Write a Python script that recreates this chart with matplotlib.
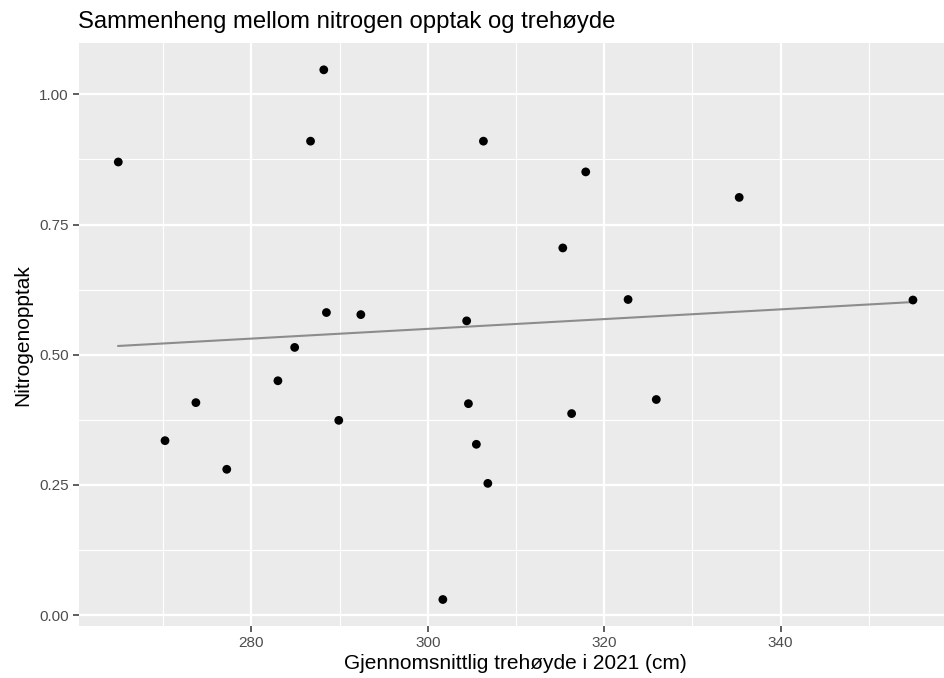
import numpy as np
import matplotlib
matplotlib.use('Agg')
import matplotlib.pyplot as plt
from matplotlib.ticker import MultipleLocator

# gjennomsnittlig trehøyde 2021 (cm) og nitrogenopptak
hoyde = [264.9, 270.2, 273.7, 277.2, 283.0, 284.9, 286.7, 288.2, 288.5, 289.9,
         292.4, 301.7, 304.4, 304.6, 305.5, 306.3, 306.8, 315.3, 316.3, 317.9,
         322.7, 325.9, 335.3, 355.0]
nitrogen = [0.870, 0.335, 0.408, 0.280, 0.450, 0.514, 0.910, 1.047, 0.581, 0.374,
            0.577, 0.030, 0.565, 0.406, 0.328, 0.910, 0.253, 0.705, 0.387, 0.851,
            0.606, 0.414, 0.802, 0.605]

x_ticks = [280, 300, 320, 340]
y_ticks = [0.00, 0.25, 0.50, 0.75, 1.00]

plt.rcParams['font.family'] = ['Liberation Sans', 'DejaVu Sans']

fig = plt.figure(figsize=(9.44, 6.78), dpi=100)
ax = fig.add_axes([0.0832, 0.0767, 0.926, 0.8594])
ax.set_facecolor('#EBEBEB')

x = np.array(hoyde)
y = np.array(nitrogen)

# lineær regresjon (som geom_smooth(method = "lm", se = FALSE))
k, m = np.polyfit(x, y, 1)
xs = np.array([x.min(), x.max()])
ax.plot(xs, k * xs + m, color='#8C8C8C', lw=1.5, zorder=2)

ax.scatter(x, y, s=40, color='black', edgecolors='none', zorder=3)

xpad = (x.max() - x.min()) * 0.05
ypad = (y.max() - y.min()) * 0.05
ax.set_xlim(x.min() - xpad, x.max() + xpad)
ax.set_ylim(y.min() - ypad, y.max() + ypad)

ax.set_xticks(x_ticks)
ax.set_yticks(y_ticks)
ax.set_yticklabels(['%.2f' % v for v in y_ticks])
ax.xaxis.set_minor_locator(MultipleLocator(10))
ax.yaxis.set_minor_locator(MultipleLocator(0.125))

ax.grid(which='major', color='white', lw=1.6)
ax.grid(which='minor', color='white', lw=0.8)
ax.set_axisbelow(True)
for s in ax.spines.values():
    s.set_visible(False)

ax.tick_params(which='major', length=4, width=1.1, color='#333333',
               labelcolor='#4D4D4D', labelsize=11, pad=3)
ax.tick_params(which='minor', length=0)

ax.set_xlabel('Gjennomsnittlig trehøyde i 2021 (cm)', fontsize=15, labelpad=3)
ax.set_ylabel('Nitrogenopptak', fontsize=15, labelpad=5)
fig.text(0.083, 0.968, 'Sammenheng mellom nitrogen opptak og trehøyde',
         fontsize=17.2, ha='left', va='center')

fig.savefig('out.png', dpi=100)
